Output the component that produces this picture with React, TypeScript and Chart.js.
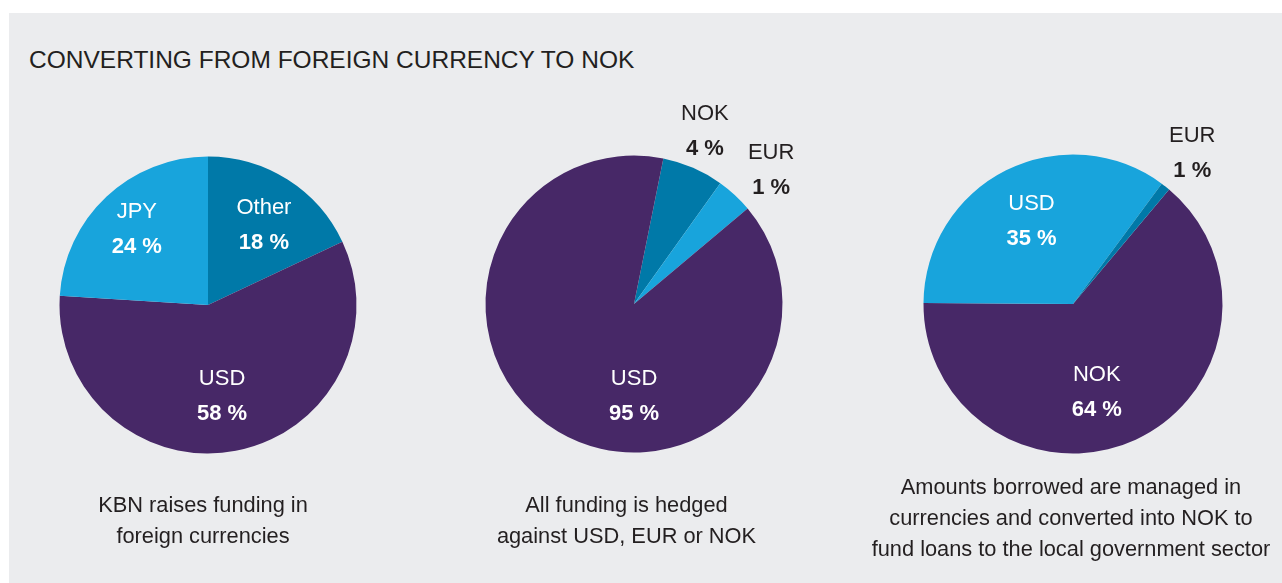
import React, { useEffect, useRef } from "react";
import { Chart, registerables } from "chart.js";

Chart.register(...registerables);

// ---------- data ----------
const chartTitle = "CONVERTING FROM FOREIGN CURRENCY TO NOK";

// Pie 1 – funding currencies (clockwise from 12 o'clock)
const fundingCurrencies = ["Other", "USD", "JPY"];
const fundingShares = [18, 58, 24];
const fundingLabels = ["18 %", "58 %", "24 %"];
const fundingCaption = ["KBN raises funding in", "foreign currencies"];

// Pie 2 – hedged currencies (sector sizes as drawn in the picture)
const hedgeCurrencies = ["NOK", "EUR", "USD"];
const hedgeShares = [6.7, 4.0, 89.3];
const hedgeLabels = ["4 %", "1 %", "95 %"];
const hedgeCaption = ["All funding is hedged", "against USD, EUR or NOK"];

// Pie 3 – lending currencies
const lendingCurrencies = ["NOK", "USD", "EUR"];
const lendingShares = [64, 35, 1];
const lendingLabels = ["64 %", "35 %", "1 %"];
const lendingCaption = [
  "Amounts borrowed are managed in",
  "currencies and converted into NOK to",
  "fund loans to the local government sector",
];

// ---------- styles ----------
const PURPLE = "#472867";
const TEAL = "#0079A8";
const SKY = "#18A4DC";
const BG = "#EBECEE";
const DARK = "#231F20";
const FONT = "'Liberation Sans', Arial, Helvetica, sans-serif";

type Placement = { f: number; shift: number; dark?: boolean };

type PieProps = {
  cx: number;
  cy: number;
  r: number;
  rotation: number;
  names: string[];
  values: number[];
  pcts: string[];
  colors: string[];
  placement: Placement[];
};

const SIZE = 440;

function Pie({ cx, cy, r, rotation, names, values, pcts, colors, placement }: PieProps) {
  const ref = useRef<HTMLCanvasElement | null>(null);
  useEffect(() => {
    if (!ref.current) return;
    const labelPlugin = {
      id: "sliceLabels",
      afterDatasetsDraw(chart: any) {
        const meta = chart.getDatasetMeta(0);
        const ctx = chart.ctx as CanvasRenderingContext2D;
        meta.data.forEach((arc: any, i: number) => {
          const { startAngle, endAngle, x, y, outerRadius } = arc.getProps(
            ["startAngle", "endAngle", "x", "y", "outerRadius"],
            true
          );
          const p = placement[i];
          const a = (startAngle + endAngle) / 2 + (p.shift * Math.PI) / 180;
          const px = x + Math.cos(a) * outerRadius * p.f;
          const py = y + Math.sin(a) * outerRadius * p.f;
          ctx.save();
          ctx.fillStyle = p.dark ? DARK : "#ffffff";
          ctx.textAlign = "center";
          ctx.textBaseline = "middle";
          ctx.font = `22px ${FONT}`;
          ctx.fillText(names[i], px, py - 17);
          ctx.font = `bold 22px ${FONT}`;
          ctx.fillText(pcts[i], px, py + 18);
          ctx.restore();
        });
      },
    };
    const chart = new Chart(ref.current, {
      type: "pie",
      data: {
        labels: names,
        datasets: [
          {
            data: values,
            backgroundColor: colors,
            borderWidth: 0,
            hoverOffset: 0,
          },
        ],
      },
      options: {
        responsive: false,
        animation: false,
        devicePixelRatio: 1,
        events: [],
        rotation,
        radius: r,
        layout: { padding: 0 },
        plugins: {
          legend: { display: false },
          tooltip: { enabled: false },
          title: { display: false },
        },
      } as any,
      plugins: [labelPlugin],
    });
    return () => chart.destroy();
  }, []);
  return (
    <canvas
      ref={ref}
      width={SIZE}
      height={SIZE}
      style={{
        position: "absolute",
        left: cx - SIZE / 2,
        top: cy - SIZE / 2,
        width: SIZE,
        height: SIZE,
      }}
    />
  );
}

function Caption({ lines, cx, top }: { lines: string[]; cx: number; top: number }) {
  return (
    <div
      style={{
        position: "absolute",
        left: cx - 250,
        top,
        width: 500,
        textAlign: "center",
        font: `21.8px ${FONT}`,
        lineHeight: "31px",
        color: DARK,
      }}
    >
      {lines.map((l, i) => (
        <div key={i}>{l}</div>
      ))}
    </div>
  );
}

export default function App() {
  return (
    <div
      style={{
        position: "absolute",
        left: 0,
        top: 0,
        width: 1282,
        height: 583,
        overflow: "hidden",
        background: "#ffffff",
      }}
    >
      <div
        style={{
          position: "absolute",
          left: 9,
          top: 13,
          right: 0,
          bottom: 0,
          background: BG,
        }}
      />
      <div
        style={{
          position: "absolute",
          left: 29,
          top: 48,
          font: `24.5px ${FONT}`,
          lineHeight: "24px",
          color: DARK,
          whiteSpace: "nowrap",
        }}
      >
        {chartTitle}
      </div>

      <Pie
        cx={208}
        cy={304.5}
        r={148.5}
        rotation={0}
        names={fundingCurrencies}
        values={fundingShares}
        pcts={fundingLabels}
        colors={[TEAL, PURPLE, SKY]}
        placement={[
          { f: 0.66, shift: 2.4 },
          { f: 0.62, shift: 2 },
          { f: 0.7, shift: 0 },
        ]}
      />
      <Pie
        cx={633.5}
        cy={303.5}
        r={148.5}
        rotation={11.4}
        names={hedgeCurrencies}
        values={hedgeShares}
        pcts={hedgeLabels}
        colors={[TEAL, SKY, PURPLE]}
        placement={[
          { f: 1.26, shift: -1.2, dark: true },
          { f: 1.29, shift: 3, dark: true },
          { f: 0.62, shift: -30.7 },
        ]}
      />
      <Pie
        cx={1073}
        cy={304}
        r={149.5}
        rotation={40}
        names={lendingCurrencies}
        values={lendingShares}
        pcts={lendingLabels}
        colors={[PURPLE, SKY, TEAL]}
        placement={[
          { f: 0.61, shift: 9.7 },
          { f: 0.62, shift: 0 },
          { f: 1.29, shift: 0, dark: true },
        ]}
      />

      <Caption lines={fundingCaption} cx={203} top={488.5} />
      <Caption lines={hedgeCaption} cx={626.5} top={488.5} />
      <Caption lines={lendingCaption} cx={1071} top={471} />
    </div>
  );
}
